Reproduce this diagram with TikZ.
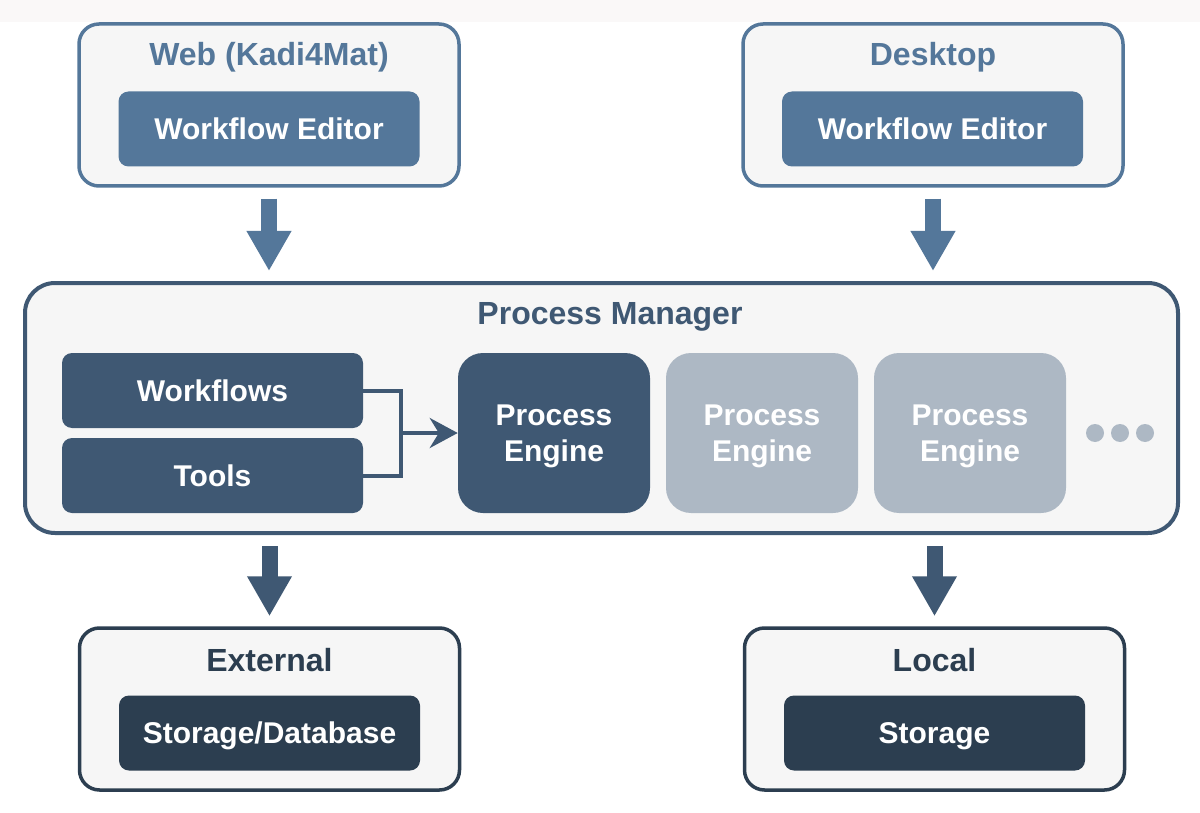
\documentclass[tikz,border=0pt]{standalone}
\usepackage{fontspec}
\setmainfont{Liberation Sans}
\usetikzlibrary{arrows.meta}
\newlength{\px}
\setlength{\px}{0.75pt}
\definecolor{steel}{HTML}{54779A}
\definecolor{slate}{HTML}{3F5873}
\definecolor{ink}{HTML}{2C3E50}
\definecolor{idle}{HTML}{ADB8C4}
\definecolor{panel}{HTML}{F6F6F6}
\definecolor{strip}{HTML}{FAF8F8}
\tikzset{
  group/.style={draw=#1, fill=panel, line width=3.5\px, rounded corners=20\px,
    minimum width=380\px, minimum height=162\px},
  title/.style={text=#1, font=\bfseries\fontsize{24}{29}\selectfont,
    text height=17.2pt, text depth=0pt},
  block/.style={fill=#1, text=white, rounded corners=10\px, minimum width=301\px,
    minimum height=75\px, font=\bfseries\fontsize{22.5}{27}\selectfont,
    text height=16.1pt, text depth=0pt},
  engine/.style={fill=#1, text=white, rounded corners=25\px, minimum width=192\px,
    minimum height=160\px, align=center, font=\bfseries\fontsize{22.5}{27}\selectfont,
    text height=43.1pt, text depth=0pt},
  fat/.style={draw=#1, line width=16\px, -{Triangle[width=31.5pt,length=30pt]},
    shorten <=11\px, shorten >=10\px},
  link/.style={draw=slate, line width=4\px}
}
\begin{document}
\begin{tikzpicture}[x=0.75pt, y=-0.75pt]
  \useasboundingbox (0,0) rectangle (1200,813);
  \fill[white] (0,0) rectangle (1200,813);
  \fill[strip] (0,0) rectangle (1200,22);

  % clients
  \node[group=steel] (web) at (269,105) {};
  \node[title=steel] (webt) at (269,54) {Web (Kadi4Mat)};
  \node[block=steel] (webed) at (269,129) {Workflow Editor};

  \node[group=steel] (desk) at (933,105) {};
  \node[title=steel] (deskt) at (933,54) {Desktop};
  \node[block=steel] (desked) at (932.5,129) {Workflow Editor};

  % process manager
  \node[draw=slate, fill=panel, line width=4\px, rounded corners=30\px,
    minimum width=1153\px, minimum height=250\px] (pm) at (601.5,408) {};
  \node[title=slate] (pmt) at (610,313) {Process Manager};
  \node[block=slate] (wf) at (212.5,390.5) {Workflows};
  \node[block=slate] (tl) at (212.5,475.5) {Tools};
  \node[engine=slate] (pe1) at (554,433) {Process\\Engine};
  \node[engine=idle] (pe2) at (762,433) {Process\\Engine};
  \node[engine=idle] (pe3) at (970,433) {Process\\Engine};
  \foreach \x in {1095,1120,1145}
    \fill[idle] (\x,433) circle (9\px);

  \coordinate (j) at (401,433);
  \draw[link] (wf.east) -| (j) |- (tl.east);
  \draw[link, -{Stealth[width=22.5pt,length=21pt]}] (j) -- (pe1.west);

  % storage
  \node[group=ink] (ext) at (269.5,709) {};
  \node[title=ink] (extt) at (269.5,660) {External};
  \node[block=ink] (db) at (269.5,733) {Storage/Database};

  \node[group=ink] (loc) at (934.5,709) {};
  \node[title=ink] (loct) at (934.5,660) {Local};
  \node[block=ink] (st) at (934.5,733) {Storage};

  \draw[fat=steel] (web.south) -- (web.south |- pm.north);
  \draw[fat=steel] (desk.south) -- (desk.south |- pm.north);
  \draw[fat=slate] (pm.south -| ext.north) -- (ext.north);
  \draw[fat=slate] (pm.south -| loc.north) -- (loc.north);
\end{tikzpicture}
\end{document}
